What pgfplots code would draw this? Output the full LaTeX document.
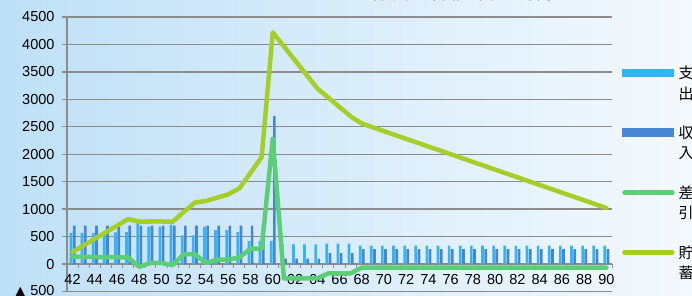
\documentclass[border=0pt]{standalone}
\usepackage{fontspec}
\setmainfont{Liberation Sans}
\newfontfamily\cjk{Noto Sans CJK JP}
\newfontfamily\dejavu{DejaVu Sans}
\usepackage{pgfplots}
\pgfplotsset{compat=1.18}
\usepackage{pgfplotstable}
\definecolor{cLight}{RGB}{51,181,245}
\definecolor{cDark}{RGB}{70,134,212}
\definecolor{cDiff}{RGB}{92,206,120}
\definecolor{cSav}{RGB}{166,206,40}
\definecolor{cGrid}{RGB}{140,140,140}
\definecolor{bgL}{RGB}{190,224,247}
\definecolor{bgR}{RGB}{244,249,253}
\newcommand\legtxt[2]{{\cjk\fontsize{15}{20.5}\selectfont\begin{tabular}[t]{@{}l@{}}#1\\#2\end{tabular}}}

\pgfplotstableread{
age expense income diff savings
42 570 700 130 220
43 570 700 130 340
44 570 700 130 460
45 575 700 125 580
46 575 700 125 700
47 580 700 120 820
48 750 700 -50 770
49 680 700 20 775
50 680 700 20 775
51 720 700 -20 770
52 520 700 180 950
53 520 700 180 1120
54 680 700 20 1150
55 620 700 80 1210
56 620 700 80 1270
57 580 700 120 1380
58 420 700 280 1660
59 420 700 280 1950
60 420 2700 2280 4220
61 360 100 -260 3965
62 360 100 -260 3710
63 360 100 -260 3455
64 360 100 -260 3200
65 370 200 -170 3030
66 370 200 -170 2860
67 370 200 -170 2690
68 335 270 -65 2560
69 335 270 -65 2490
70 335 270 -65 2420
71 335 270 -65 2350
72 335 270 -65 2280
73 335 270 -65 2210
74 335 270 -65 2140
75 335 270 -65 2070
76 335 270 -65 2000
77 335 270 -65 1930
78 335 270 -65 1860
79 335 270 -65 1790
80 335 270 -65 1720
81 335 270 -65 1650
82 335 270 -65 1580
83 335 270 -65 1510
84 335 270 -65 1440
85 335 270 -65 1370
86 335 270 -65 1300
87 335 270 -65 1230
88 335 270 -65 1160
89 335 270 -65 1090
90 335 270 -65 1020
}\data

\begin{document}
\begin{tikzpicture}
\useasboundingbox (-67pt,-4.5pt) rectangle (625pt,291.5pt);
\shade[left color=bgL, right color=bgR] (-67pt,-4.5pt) rectangle (625pt,291.5pt);
\begin{axis}[
  at={(0,0)}, anchor=south west,
  scale only axis, width=545pt, height=274.5pt,
  xmin=41.5, xmax=90.5, ymin=-500, ymax=4500,
  axis y line*=left, axis x line*=middle,
  hide obscured x ticks=false, hide obscured y ticks=false,
  axis line style={cGrid, line width=1.3pt},
  ymajorgrids, grid style={cGrid, line width=1.3pt},
  ytick={-500,0,500,1000,1500,2000,2500,3000,3500,4000,4500},
  yticklabels={{{\dejavu\fontsize{13}{14}\selectfont▲}\hspace{5pt}500},0,500,1000,1500,2000,2500,3000,3500,4000,4500},
  xtick={42,44,...,90},
  minor xtick={41.5,42.5,...,90.5},
  tick align=outside,
  major tick length=5pt, minor tick length=4pt,
  major y tick style={cGrid, line width=1.3pt},
  major x tick style={draw=none},
  minor x tick style={cGrid, line width=1pt},
  /pgf/number format/assume math mode=true,
  ticklabel style={font=\fontsize{14.5}{16}\selectfont, text=black},
  yticklabel style={anchor=east, xshift=-4pt},
  xticklabel style={anchor=north, yshift=-2pt},
  title={\cjk\fontsize{16}{18}\selectfont ライフプランシミュレーション（収支・貯蓄）単位：万円},
  title style={at={(axis description cs:0.51,1)}, anchor=base, yshift=11pt},
  legend style={draw=none, fill=none, at={(axis description cs:1,1)}, anchor=north west,
    xshift=10pt, yshift=-47pt, inner sep=0pt, column sep=4pt, row sep=44pt,
    nodes={inner sep=0pt, anchor=base west}},
  legend cell align=left,
]
\addplot[ybar, bar width=2.7pt, bar shift=-1.6pt, fill=cLight, draw=none,
  legend image code/.code={\fill[cLight] (0pt,1.3pt) rectangle (52pt,10pt);}]
  table[x=age, y=expense]{\data};
\addlegendentry{\legtxt{支}{出}}
\addplot[ybar, bar width=2.7pt, bar shift=1.6pt, fill=cDark, draw=none,
  legend image code/.code={\fill[cDark] (0pt,1.3pt) rectangle (52pt,10pt);}]
  table[x=age, y=income]{\data};
\addlegendentry{\legtxt{収}{入}}
\addplot[cDiff, line width=4.5pt, line join=round, line cap=round, no marks,
  legend image code/.code={\draw[cDiff, line width=4.5pt, line cap=round] (2pt,5.5pt) -- (50pt,5.5pt);}]
  table[x=age, y=diff]{\data};
\addlegendentry{\legtxt{差}{引}}
\addplot[cSav, line width=4.5pt, line join=round, line cap=round, no marks,
  legend image code/.code={\draw[cSav, line width=4.5pt, line cap=round] (2pt,5.5pt) -- (50pt,5.5pt);}]
  table[x=age, y=savings]{\data};
\addlegendentry{\legtxt{貯}{蓄}}
\end{axis}
\end{tikzpicture}
\end{document}
